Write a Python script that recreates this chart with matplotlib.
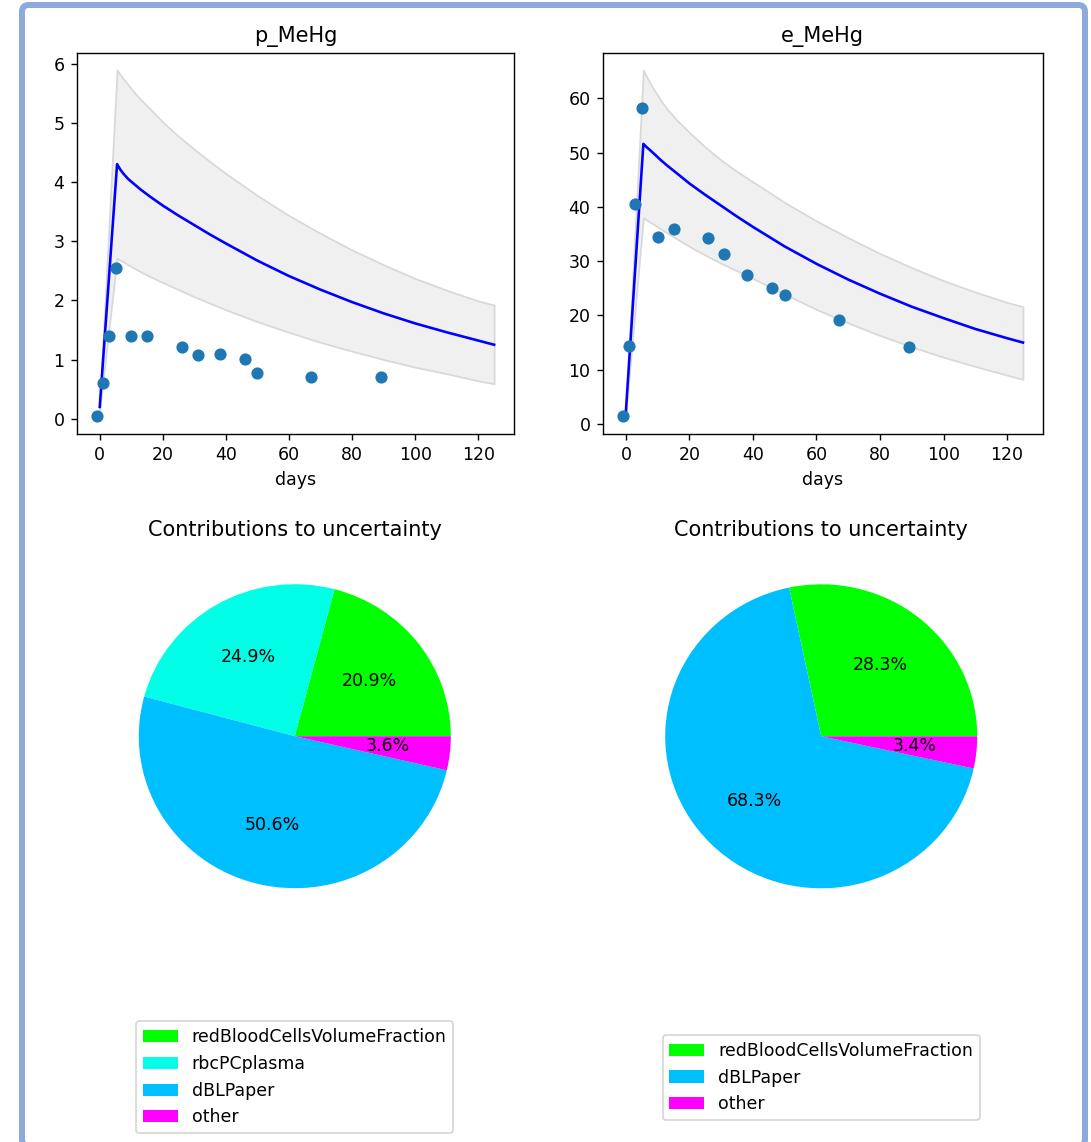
import matplotlib
matplotlib.use("Agg")
import matplotlib.pyplot as plt
from matplotlib.patches import FancyBboxPatch

# measured days
obs_days = [-1, 1, 3, 5, 10, 15, 26, 31, 38, 46, 50, 67, 89]
p_obs = [0.04, 0.61, 1.39, 2.54, 1.39, 1.39, 1.22, 1.07, 1.09, 1.01, 0.78, 0.71, 0.71]
e_obs = [1.4, 14.3, 40.5, 58.2, 34.4, 36.0, 34.2, 31.4, 27.4, 25.0, 23.8, 19.2, 14.1]

# model output (mean and band)
model_days = [0, 5.5, 6.5, 7.5, 9, 11, 13, 16, 20, 25, 30, 35, 40, 50, 60, 70,
              80, 90, 100, 110, 120, 125]
p_mean = [0.2, 4.3, 4.21, 4.14, 4.05, 3.96, 3.87, 3.75, 3.6, 3.43, 3.27, 3.11,
          2.96, 2.67, 2.41, 2.18, 1.97, 1.78, 1.61, 1.46, 1.32, 1.25]
p_hi = [0.25, 5.89, 5.81, 5.74, 5.64, 5.51, 5.39, 5.23, 5.01, 4.77, 4.55, 4.34,
        4.14, 3.77, 3.43, 3.13, 2.85, 2.6, 2.37, 2.17, 1.99, 1.92]
p_lo = [0.15, 2.71, 2.68, 2.65, 2.6, 2.54, 2.48, 2.4, 2.3, 2.18, 2.06, 1.95,
        1.84, 1.64, 1.46, 1.29, 1.14, 1.0, 0.87, 0.76, 0.64, 0.59]
e_mean = [2.3, 51.6, 51.0, 50.5, 49.7, 48.6, 47.6, 46.2, 44.3, 42.2, 40.2, 38.2,
          36.3, 32.7, 29.5, 26.6, 24.0, 21.6, 19.5, 17.5, 15.8, 15.0]
e_hi = [2.6, 65.2, 64.0, 62.9, 61.4, 59.6, 58.0, 56.0, 53.7, 51.0, 48.6, 46.5,
        44.6, 40.8, 37.4, 34.3, 31.4, 28.8, 26.4, 24.3, 22.4, 21.6]
e_lo = [2.0, 38.0, 37.6, 37.2, 36.7, 35.9, 35.2, 34.1, 32.7, 31.1, 29.6, 28.2,
        26.8, 23.9, 21.1, 18.6, 16.3, 14.2, 12.3, 10.6, 9.0, 8.2]

# contributions to uncertainty
p_names = ['redBloodCellsVolumeFraction', 'rbcPCplasma', 'dBLPaper', 'other']
p_share = [20.9, 24.9, 50.6, 3.6]
p_colors = ['#00ff00', '#00ffe6', '#00bfff', '#ff00ff']
e_names = ['redBloodCellsVolumeFraction', 'dBLPaper', 'other']
e_share = [28.3, 68.3, 3.4]
e_colors = ['#00ff00', '#00bfff', '#ff00ff']

W, H = 1091, 1142
DPI = 125
fig = plt.figure(figsize=(W / DPI, H / DPI), dpi=DPI)


def box(x0, y0, x1, y1):
    # pixel box (top-left origin) -> figure fraction rect
    return [x0 / W, 1 - y1 / H, (x1 - x0) / W, (y1 - y0) / H]


def conc_plot(ax, title, mean, lo, hi, obs):
    ax.fill_between(model_days, lo, hi, facecolor='#f0f0f0',
                    edgecolor='#d8d8d8', linewidth=1)
    ax.plot(model_days, mean, 'b', linewidth=1.5)
    ax.plot(obs_days, obs, 'o', color='C0')
    ax.set_title(title)
    ax.set_xlabel('days')


ax1 = fig.add_axes(box(76.7, 52.7, 514, 433.7))
conc_plot(ax1, 'p_MeHg', p_mean, p_lo, p_hi, p_obs)
ax2 = fig.add_axes(box(602.7, 52.7, 1043, 433.7))
conc_plot(ax2, 'e_MeHg', e_mean, e_lo, e_hi, e_obs)


def share_pie(ax, shares, names, colors):
    wedges, _ = ax.pie(shares, colors=colors, autopct='%1.1f%%')[:2]
    ax.set_aspect('auto')
    ax.set_xlim(-1.25, 1.25)
    ax.set_ylim(-1.25, 1.25)
    ax.set_title('Contributions to uncertainty')
    ax.legend(wedges, names, loc='center', bbox_to_anchor=(0.5, -0.398))


ax3 = fig.add_axes(box(294.8 - 195, 736.2 - 190, 294.8 + 195, 736.2 + 190))
share_pie(ax3, p_share, p_names, p_colors)
ax4 = fig.add_axes(box(821.2 - 195, 736.3 - 190, 821.2 + 195, 736.3 + 190))
share_pie(ax4, e_share, e_names, e_colors)

# outer frame
frame = FancyBboxPatch((22 / W, 1 - 1146 / H), 1063 / W, 1141 / H,
                       boxstyle='round,pad=0,rounding_size=0.006',
                       transform=fig.transFigure, facecolor='none',
                       edgecolor='#8eaadb', linewidth=6 * 72 / DPI)
fig.add_artist(frame)

fig.savefig('out.png', dpi=DPI)
